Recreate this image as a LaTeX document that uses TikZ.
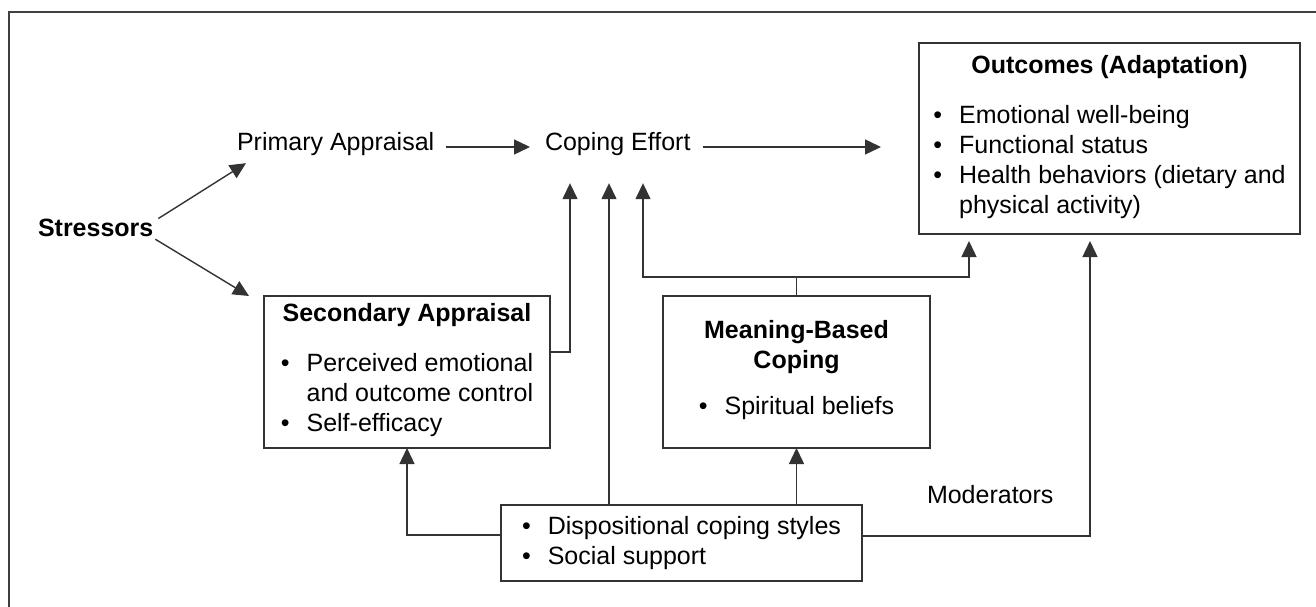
\documentclass[tikz,border=0pt]{standalone}
\usepackage{fontspec}
\setmainfont{Liberation Sans}
\usetikzlibrary{arrows.meta}

\begin{document}
\begin{tikzpicture}[x=1pt, y=-1pt, font=\fontsize{25}{30}\selectfont,
    every node/.style={inner sep=0pt, outer sep=0pt},
    box/.style={draw=black!80, line width=1.4pt, align=center},
    arr/.style={-{Triangle[length=16pt, width=15pt]}, line width=1.4pt, draw=black!80},
    conn/.style={line width=1.4pt, draw=black!80}]
    \useasboundingbox (0,0) rectangle (1316,607);
    \draw[line width=1.2pt, black!75] (9,607) |- (1316,12);

    % free text
    \node (stress) [anchor=base west] at (38,236) {\textbf{Stressors}};
    \node (primary) [anchor=base west] at (237,150) {Primary Appraisal};
    \node (coping) [anchor=base west] at (545,150) {Coping Effort};
    \node (moder) [anchor=base west] at (927,503) {Moderators};

    % boxes
    \node (outcomes)
        [box, minimum width=381pt, minimum height=191pt] at (1109.5,138.5)
        {\textbf{Outcomes (Adaptation)}\\[20pt]
         \begin{tabular}[t]{@{}l@{\hspace{17pt}}l@{}}
         \textbullet & Emotional well-being\\
         \textbullet & Functional status\\
         \textbullet & Health behaviors (dietary and\\
                     & physical activity)
         \end{tabular}};
    \node (secondary)
        [box, minimum width=286pt, minimum height=152pt] at (407,372)
        {\textbf{Secondary Appraisal}\\[20pt]
         \begin{tabular}[t]{@{}l@{\hspace{17pt}}l@{}}
         \textbullet & Perceived emotional\\
                     & and outcome control\\
         \textbullet & Self-efficacy
         \end{tabular}};
    \node (meaning)
        [box, minimum width=267pt, minimum height=152pt] at (796.5,372)
        {\textbf{Meaning-Based}\\\textbf{Coping}\\[16pt]
         \begin{tabular}[t]{@{}l@{\hspace{17pt}}l@{}}
         \textbullet & Spiritual beliefs
         \end{tabular}};
    \node (disp)
        [box, minimum width=361pt, minimum height=76pt] at (681.5,543)
        {\begin{tabular}{@{}l@{\hspace{17pt}}l@{}}
         \textbullet & Dispositional coping styles\\
         \textbullet & Social support
         \end{tabular}};

    \coordinate (c1) at ([shift={(25pt,-28pt)}]coping.south west);
    \coordinate (c2) at ([shift={(64pt,-28pt)}]coping.south west);
    \coordinate (c3) at ([shift={(98pt,-28pt)}]coping.south west);
    \coordinate (o1) at ([shift={(50pt,-7pt)}]outcomes.south west);
    \coordinate (o2) at ([shift={(171pt,-7pt)}]outcomes.south west);
    \coordinate (mj) at ([yshift=19pt]meaning.north);

    % arrows
    \draw[arr] ([xshift=5pt]stress.north east) -- ([shift={(9pt,-8pt)}]primary.south west);
    \draw[arr] ([shift={(2pt,-3pt)}]stress.south east) -- ([xshift=-15pt]secondary.north west);
    \draw[arr, shorten <=12pt, shorten >=15pt] ([yshift=3pt]primary.base east) -- ([yshift=3pt]coping.base west);
    \draw[arr, shorten <=13pt, shorten >=38pt] ([yshift=3pt]coping.base east) -- ([yshift=3pt]coping.base east -| outcomes.west);
    \draw[arr] ([yshift=20pt]secondary.east) -| (c1);
    \draw[arr] (disp.north -| c2) -- (c2);
    \draw[conn] (meaning.north) -- (mj);
    \draw[arr] (mj) -| (c3);
    \draw[arr] (mj) -| (o1);
    \draw[arr] ([yshift=8pt]disp.west) -| (secondary.south);
    \draw[arr] (disp.north -| meaning.south) -- (meaning.south);
    \draw[arr] ([yshift=7pt]disp.east) -| (o2);
\end{tikzpicture}
\end{document}
